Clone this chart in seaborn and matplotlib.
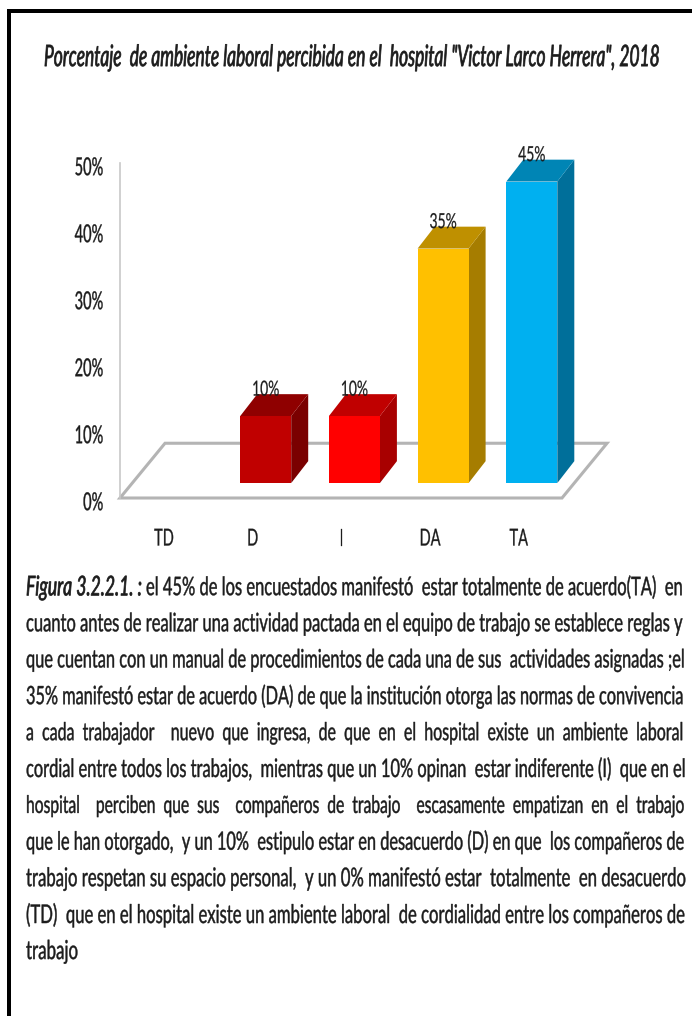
import matplotlib
matplotlib.use("Agg")
import matplotlib.pyplot as plt
from matplotlib.patches import Polygon, Rectangle
from matplotlib.patheffects import AbstractPathEffect
from matplotlib.transforms import Affine2D
import pandas as pd
import seaborn as sns

categories = ["TD", "D", "I", "DA", "TA"]
values = [0, 10, 10, 35, 45]
labels = ["", "10%", "10%", "35%", "45%"]
front_colors = ["#C00000", "#C00000", "#FF0000", "#FFC000", "#00B0F0"]
side_colors = ["#7A0000", "#7A0000", "#A80000", "#A67D00", "#006F9A"]
top_colors = ["#8F0000", "#8F0000", "#C00000", "#BF9000", "#0085B5"]
y_ticks = [0, 10, 20, 30, 40, 50]

title = 'Porcentaje  de ambiente laboral percibida en el  hospital "Victor Larco Herrera", 2018'
fig_label = "Figura 3.2.2.1. :"
body_lines = [
    "el 45% de los encuestados manifestó  estar totalmente de acuerdo(TA)  en",
    "cuanto antes de realizar una actividad pactada en el equipo de trabajo se establece reglas y",
    "que cuentan con un manual de procedimientos de cada una de sus  actividades asignadas ;el",
    "35% manifestó estar de acuerdo (DA) de que la institución otorga las normas de convivencia",
    "a cada trabajador  nuevo que ingresa, de que en el hospital existe un ambiente laboral",
    "cordial entre todos los trabajos,  mientras que un 10% opinan  estar indiferente (I)  que en el",
    "hospital  perciben que sus  compañeros de trabajo  escasamente empatizan en el trabajo",
    "que le han otorgado,  y un 10%  estipulo estar en desacuerdo (D) en que  los compañeros de",
    "trabajo respetan su espacio personal,  y un 0% manifestó estar  totalmente  en desacuerdo",
    "(TD)  que en el hospital existe un ambiente laboral  de cordialidad entre los compañeros de",
    "trabajo",
]
space_factor = [1, 1, 1, 1, 2, 1, 2, 1, 1, 1, 1]

W, H = 692, 1016
sns.set_theme(style="white")
plt.rcParams["font.family"] = ["Lato", "DejaVu Sans"]
plt.rcParams["text.hinting"] = "no_hinting"
TEXT = "#1c1c1c"


class Tall(AbstractPathEffect):
    """Stretch glyphs vertically about their mid-height, like the squeezed source image."""

    def __init__(self, k=1.55, stroke=0.3, down=0.0):
        super().__init__()
        self.k, self.stroke, self.down = k, stroke, down

    def draw_path(self, renderer, gc, tpath, affine, rgbFace=None):
        aff = (Affine2D().translate(0, -36).scale(1, self.k).translate(0, 36)
               + affine + Affine2D().translate(0, -self.down))
        gc0 = renderer.new_gc()
        gc0.copy_properties(gc)
        if rgbFace is not None and self.stroke > 0:
            gc0.set_foreground(rgbFace)
            gc0.set_linewidth(self.stroke)
        renderer.draw_path(gc0, tpath, aff, rgbFace)
        gc0.restore()


fig = plt.figure(figsize=(W / 100, H / 100), dpi=100, facecolor="white")
L, R, T, B = 120, 610, 163, 498
ax = fig.add_axes([L / W, 1 - B / H, (R - L) / W, (B - T) / H])

df = pd.DataFrame({"cat": categories, "val": values})
sns.barplot(data=df, x="cat", y="val", hue="cat", palette=front_colors, dodge=False,
            width=0.575, saturation=1, legend=False, linewidth=0, ax=ax, zorder=3)

PX_X, PX_Y = 88.7, 6.73
ax.set_xlim((L - 177) / PX_X, (R - 177) / PX_X)
ax.set_ylim(-15 / PX_Y, (B - T - 15) / PX_Y)
dx, dy = 17 / PX_X, 22 / PX_Y

fx0, fy0 = (L - 177) / PX_X, -15 / PX_Y
fw, fdx, fdy = 442 / PX_X, 45 / PX_X, 55 / PX_Y
ax.add_patch(Polygon([(fx0, fy0), (fx0 + fw, fy0), (fx0 + fw + fdx, fy0 + fdy), (fx0 + fdx, fy0 + fdy)],
                     closed=True, fill=False, ec="#B4B4B4", lw=2.2, clip_on=False, zorder=1))

for i, v in enumerate(values):
    if v == 0:
        continue
    bar = next(p for p in ax.patches if isinstance(p, Rectangle) and p.get_height() == v
               and abs(p.get_x() + p.get_width() / 2 - i) < 0.01)
    x0, x1 = bar.get_x(), bar.get_x() + bar.get_width()
    ax.add_patch(Polygon([(x1, 0), (x1 + dx, dy), (x1 + dx, v + dy), (x1, v)], closed=True,
                         fc=side_colors[i], ec="none", clip_on=False, zorder=2.5))
    ax.add_patch(Polygon([(x0, v), (x1, v), (x1 + dx, v + dy), (x0 + dx, v + dy)], closed=True,
                         fc=top_colors[i], ec="none", clip_on=False, zorder=2.5))
    ax.text(i, v + 27 / PX_Y, labels[i], ha="center", va="center", fontsize=10, color=TEXT,
            clip_on=False, zorder=5, path_effects=[Tall(1.5, 0.15)])

sns.despine(ax=ax, left=False, bottom=True, top=True, right=True)
ax.spines["left"].set_color("#C8C8C8")
ax.spines["left"].set_linewidth(1.2)
ax.set_xlabel("")
ax.set_ylabel("")
ax.set_xticks([i - 13 / PX_X for i in range(len(categories))], categories)
ax.set_yticks([t - 15 / PX_Y for t in y_ticks], [f"{t}%" for t in y_ticks])
ax.tick_params(axis="x", length=0, pad=24, labelsize=10.5, labelcolor=TEXT)
ax.tick_params(axis="y", length=0, pad=12, labelsize=10.5, labelcolor=TEXT)
for t in ax.get_xticklabels():
    t.set_path_effects([Tall(1.6, 0.2)])
for t in ax.get_yticklabels():
    t.set_path_effects([Tall(1.7, 0.25, down=3)])
ax.grid(False)

fig.add_artist(Rectangle((7 / W, 0), 3.5 / W, 1 - 9 / H, transform=fig.transFigure, fc="black", ec="none"))
fig.add_artist(Rectangle((7 / W, 1 - 13 / H), 1 - 7 / W, 4 / H, transform=fig.transFigure, fc="black", ec="none"))

renderer = fig.canvas.get_renderer()


def fit(s, x0, x1, py, k=1.55, stroke=0.3, size=11.0, **kw):
    t = fig.text(x0 / W, 1 - py / H, s, ha="left", va="center", fontsize=size, color=TEXT,
                 path_effects=[Tall(k, stroke)], **kw)
    for _ in range(2):
        t.set_fontsize(t.get_fontsize() * (x1 - x0) / t.get_window_extent(renderer).width)
    return t


fit(title, 44, 661, 57, k=1.7, stroke=0.5, style="italic")

LEFT, RIGHT, Y0, STEP = 26, 684, 587, 36.4
fit(fig_label, LEFT, 142, Y0, stroke=0.5, style="italic")
for i, line in enumerate(body_lines):
    py = Y0 + i * STEP
    s = line.replace(" ", " " * space_factor[i])
    if i == 0:
        fit(s, 146, RIGHT, py)
    elif i == len(body_lines) - 1:
        fit(s, LEFT, 78, py)
    else:
        fit(s, LEFT, RIGHT, py)

fig.savefig("out.png", dpi=100)
